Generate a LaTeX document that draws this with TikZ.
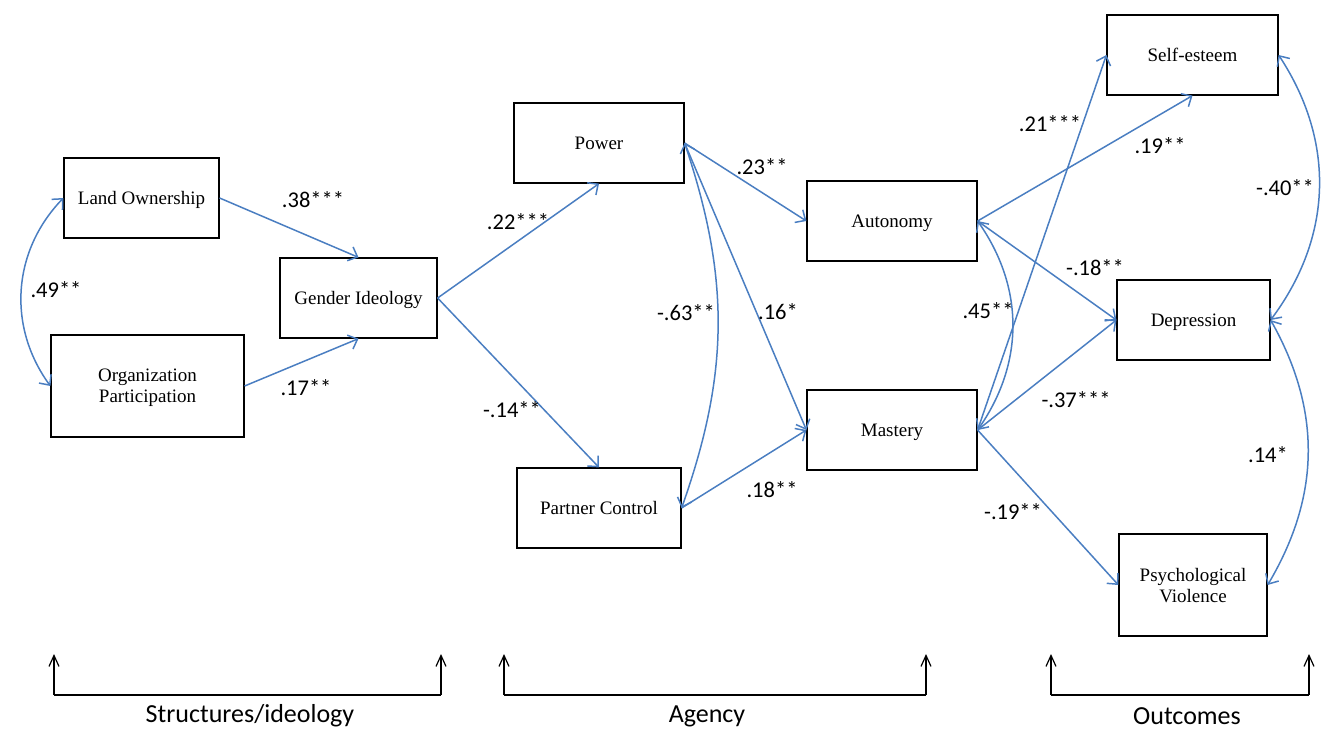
\documentclass[tikz,border=0pt]{standalone}
\usepackage{fontspec}
\setmainfont{Liberation Serif}
\newfontfamily\califont{Carlito}
\usetikzlibrary{arrows.meta,positioning}
\definecolor{linkblue}{RGB}{74,126,193}

\begin{document}
\begin{tikzpicture}[x=1pt,y=-1pt,
    var/.style={draw,line width=1.2pt,inner sep=0pt,align=center,text depth=0pt,
      font=\fontsize{19}{21}\selectfont},
    tipb/.tip={Straight Barb[length=8pt,width=15pt,line width=1.5pt]},
    link/.style={linkblue,line width=1.5pt,-tipb},
    cov/.style={linkblue,line width=1.5pt,tipb-tipb},
    coef/.style={font=\califont\fontsize{22.5}{24}\selectfont},
    group/.style={font=\califont\fontsize{26}{28}\selectfont},
    stage/.style={line width=1.2pt,-{Straight Barb[length=11pt,width=10pt,line width=1.2pt]}}]
  \useasboundingbox (0,0) rectangle (1322,729);

  % variables
  \node[var,minimum width=155pt,minimum height=80pt]  (land)    at (141.5,198) {Land Ownership};
  \node[var,minimum width=193pt,minimum height=102pt] (org)     at (147.5,386) {Organization\\Participation};
  \node[var,minimum width=157pt,minimum height=80pt]  (gender)  at (358.5,298) {Gender Ideology};
  \node[var,minimum width=170pt,minimum height=80pt]  (power)   at (599,143)   {Power};
  \node[var,minimum width=164pt,minimum height=80pt]  (partner) at (599,508)   {Partner Control};
  \node[var,minimum width=170pt,minimum height=80pt]  (auto)    at (892,221)   {Autonomy};
  \node[var,minimum width=170pt,minimum height=80pt]  (mastery) at (892,430)   {Mastery};
  \node[var,minimum width=171pt,minimum height=80pt]  (esteem)  at (1192.5,55) {Self-esteem};
  \node[var,minimum width=153pt,minimum height=80pt]  (depr)    at (1193.5,320) {Depression};
  \node[var,minimum width=148pt,minimum height=102pt] (viol)    at (1193,585)  {Psychological\\Violence};

  % paths
  \draw[link] (land.east) -- (gender.north);
  \draw[link] (org.east) -- (gender.south);
  \draw[link] (gender.east) -- (power.south);
  \draw[link] (gender.east) -- (partner.north);
  \draw[link] (power.east) -- (auto.west);
  \draw[link] (power.east) -- (mastery.west);
  \draw[link] (partner.east) -- (mastery.west);
  \draw[link] (auto.east) -- (esteem.south);
  \draw[link] (auto.east) -- (depr.west);
  \draw[link] (mastery.east) -- (esteem.west);
  \draw[link] (mastery.east) -- (depr.west);
  \draw[link] (mastery.east) -- (viol.west);

  % covariances
  \draw[cov] (land.west) to[bend right=40] (org.west);
  \draw[cov] (power.east) to[bend left=19] (partner.east);
  \draw[cov] (auto.east) to[bend left=35] (mastery.east);
  \draw[cov] (esteem.east) to[bend left=35] (depr.east);
  \draw[cov] (depr.east) to[bend left=30] (viol.east);

  % coefficients
  \node[coef] (c38) at (313,200) {.38***};
  \node[coef] (c17) at (306,388) {.17**};
  \node[coef] (c49) at (56,290)  {.49**};
  \node[coef] (c22) at (518,222) {.22***};
  \node[coef] (c14n) at (512,410) {-.14**};
  \node[coef] (c23) at (762,167) {.23**};
  \node[coef] (c63) at (686,313) {-.63**};
  \node[coef] (c16) at (778,312) {.16*};
  \node[coef] (c18) at (772,490) {.18**};
  \node[coef] (c21) at (1050,124) {.21***};
  \node[coef] (c19) at (1160,146) {.19**};
  \node[coef] (c40) at (1285,188) {-.40**};
  \node[coef] (c18n) at (1095,268) {-.18**};
  \node[coef] (c45) at (988,311)  {.45**};
  \node[coef] (c37) at (1076,400) {-.37***};
  \node[coef] (c14) at (1268,455) {.14*};
  \node[coef] (c19n) at (1013,512) {-.19**};

  % stages
  \coordinate (s1a) at (54,695);   \coordinate (s1b) at (441,695);
  \coordinate (s2a) at (504,695);  \coordinate (s2b) at (926,695);
  \coordinate (s3a) at (1051,695); \coordinate (s3b) at (1309,695);
  \coordinate (t1a) at (54,654);   \coordinate (t1b) at (441,654);
  \coordinate (t2a) at (504,654);  \coordinate (t2b) at (926,654);
  \coordinate (t3a) at (1051,654); \coordinate (t3b) at (1309,654);
  \draw[line width=2.5pt] (s1a) -- (s1b);
  \draw[line width=2.5pt] (s2a) -- (s2b);
  \draw[line width=2.5pt] (s3a) -- (s3b);
  \draw[stage] (s1a) -- (t1a);
  \draw[stage] (s1b) -- (t1b);
  \draw[stage] (s2a) -- (t2a);
  \draw[stage] (s2b) -- (t2b);
  \draw[stage] (s3a) -- (t3a);
  \draw[stage] (s3b) -- (t3b);
  \node[group] (g1) at (250,716)  {Structures/ideology};
  \node[group] (g2) at (707,716)  {Agency};
  \node[group] (g3) at (1187,716) {Outcomes};
\end{tikzpicture}
\end{document}
